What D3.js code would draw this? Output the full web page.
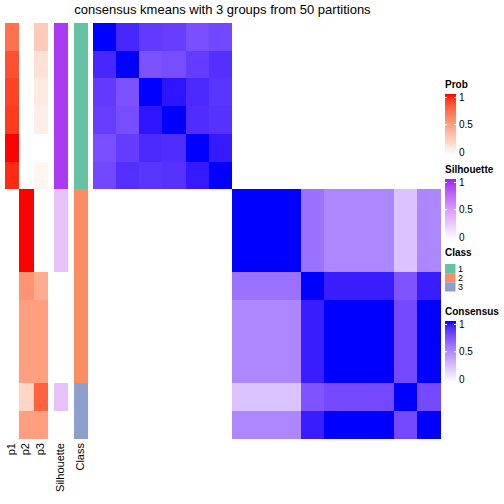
<!DOCTYPE html>
<html><head><meta charset="utf-8">
<script src="https://cdn.jsdelivr.net/npm/d3@7"></script>
<style>body{margin:0;background:#fff}svg{display:block;font-family:"Liberation Sans",Arial,sans-serif}</style>
</head><body><svg id="c" width="504" height="504"></svg>
<script>
const title = "consensus kmeans with 3 groups from 50 partitions";
const annNames = ["p1","p2","p3","Silhouette","Class"];
const p1 = [0.72,0.84,0.89,0.91,1.0,0.95, 0,0,0, 0,0,0,0, 0,0];
const p2 = [0,0,0,0,0,0, 1,1,1, 0.56,0.5,0.5,0.5, 0.22,0.5];
const p3 = [0.28,0.16,0.11,0.09,0,0.05, 0,0,0, 0.44,0.5,0.5,0.5, 0.78,0.5];
const silhouette = [0.92,0.92,0.92,0.92,0.92,0.92, 0.3,0.3,0.3, 0,0,0,0, 0.3,0];
const classes = [1,1,1,1,1,1, 2,2,2, 2,2,2,2, 3,3];
const classColors = ["#66C2A5","#FC8D62","#8DA0CB"];
const classLevels = [1,2,3];
const legendTicks = [0,0.5,1];
// consensus block for class-1 samples
const block1 = [
 [1,0.91,0.84,0.82,0.75,0.78],
 [0.91,1,0.74,0.76,0.83,0.88],
 [0.84,0.74,1,0.96,0.9,0.86],
 [0.82,0.76,0.96,1,0.89,0.87],
 [0.75,0.83,0.9,0.89,1,0.95],
 [0.78,0.88,0.86,0.87,0.95,1]
];
// group-2/3 sub-groups: rows 7-9 (A), 10 (B), 11-13 (C), 14 (D), 15 (E)
const subGroups = ["A","A","A","B","C","C","C","D","E"];
const subNames = ["A","B","C","D","E"];
const subMatrix = [
 [1,0.6,0.51,0.25,0.51],
 [0.6,1,0.94,0.73,0.94],
 [0.51,0.94,1,0.77,1],
 [0.25,0.73,0.77,1,0.77],
 [0.51,0.94,1,0.77,1]
];

const n = 15;
const consensus = [];
for (let i=0;i<n;i++){ const row=[]; for(let j=0;j<n;j++){
  let v=0;
  if(i<6&&j<6) v=block1[i][j];
  else if(i>=6&&j>=6){ const a=subNames.indexOf(subGroups[i-6]), b=subNames.indexOf(subGroups[j-6]); v=subMatrix[a][b]; }
  row.push(v);} consensus.push(row);}

const svg = d3.select("#c");
const idx = d3.range(n);
const x = d3.scaleBand().domain(idx).range([93,440]);
const y = d3.scaleBand().domain(idx).range([23,438.5]);
const probCol = d3.scaleLinear().domain([0,1]).range(["#ffffff","#ff0000"]).interpolate(d3.interpolateLab);
const silCol = d3.scaleLinear().domain([0,1]).range(["#ffffff","#a020f0"]).interpolate(d3.interpolateLab);
const consCol = d3.scaleLinear().domain([0,1]).range(["#ffffff","#0000ff"]).interpolate(d3.interpolateLab);
const clsCol = d3.scaleOrdinal().domain(classLevels).range(classColors);

// title
svg.append("text").attr("x",222.5).attr("y",14).attr("text-anchor","middle").attr("font-size",13).text(title);

// annotation columns
const annX = d3.scaleOrdinal().domain(annNames).range([5,19.33,33.67,54,74]);
const annW = 14.33;
const annData = [p1,p2,p3,silhouette,classes];
const annColor = [probCol,probCol,probCol,silCol,clsCol];
annNames.forEach((nm,k)=>{
  svg.append("g").attr("shape-rendering","crispEdges").selectAll("rect").data(idx).join("rect")
    .attr("x",annX(nm)).attr("y",i=>y(i)).attr("width",annW).attr("height",y.bandwidth()+0.5)
    .attr("fill",i=>annColor[k](annData[k][i]));
  svg.append("text").attr("transform",`translate(${annX(nm)+annW/2},443) rotate(-90)`)
    .attr("text-anchor","end").attr("dominant-baseline","middle").attr("font-size",11).text(nm);
});

// heatmap
const cells = [];
idx.forEach(i=>idx.forEach(j=>cells.push({i,j,v:consensus[i][j]})));
svg.append("g").attr("shape-rendering","crispEdges").selectAll("rect").data(cells).join("rect")
  .attr("x",d=>x(d.j)).attr("y",d=>y(d.i)).attr("width",x.bandwidth()+0.5).attr("height",y.bandwidth()+0.5)
  .attr("fill",d=>consCol(d.v));

// legends
const defs = svg.append("defs");
function colorLegend(name, scale, top, id){
  const g = svg.append("g");
  g.append("text").attr("x",445).attr("y",top).attr("font-size",10).attr("font-weight","bold").text(name);
  const ly = d3.scaleLinear().domain([0,1]).range([top+64,top+9.5]);
  const grad = defs.append("linearGradient").attr("id",id).attr("x1",0).attr("y1",1).attr("x2",0).attr("y2",0);
  d3.range(0,1.01,0.1).forEach(t=>grad.append("stop").attr("offset",t).attr("stop-color",scale(t)));
  g.append("rect").attr("x",445).attr("y",top+6).attr("width",11).attr("height",61).attr("fill",`url(#${id})`);
  const ax = d3.axisRight(ly).tickValues(legendTicks).tickFormat(d3.format("")).tickSize(0).tickPadding(3);
  const ag = g.append("g").attr("transform","translate(456,0)").call(ax);
  ag.select(".domain").remove();
  ag.selectAll("text").attr("font-size",10).attr("font-family","Liberation Sans, Arial, sans-serif").attr("fill","#000");
  legendTicks.filter(t=>t>0).forEach(t=>{
    g.append("line").attr("x1",445).attr("x2",447).attr("y1",ly(t)).attr("y2",ly(t)).attr("stroke","#fff").attr("stroke-width",1);
    g.append("line").attr("x1",454).attr("x2",456).attr("y1",ly(t)).attr("y2",ly(t)).attr("stroke","#fff").attr("stroke-width",1);
  });
}
colorLegend("Prob", probCol, 88, "gp");
colorLegend("Silhouette", silCol, 173, "gs");
colorLegend("Consensus", consCol, 315, "gc");

const cg = svg.append("g");
cg.append("text").attr("x",445).attr("y",256).attr("font-size",10).attr("font-weight","bold").text("Class");
const cy = d3.scaleBand().domain(classLevels).range([264,291.5]);
cg.selectAll("rect").data(classLevels).join("rect")
  .attr("x",445).attr("y",d=>cy(d)).attr("width",10.5).attr("height",cy.bandwidth()).attr("fill",d=>clsCol(d));
cg.selectAll("text.l").data(classLevels).join("text").attr("class","l")
  .attr("x",458).attr("y",d=>cy(d)+cy.bandwidth()/2).attr("dominant-baseline","central").attr("font-size",9).text(d=>d);
</script></body></html>
